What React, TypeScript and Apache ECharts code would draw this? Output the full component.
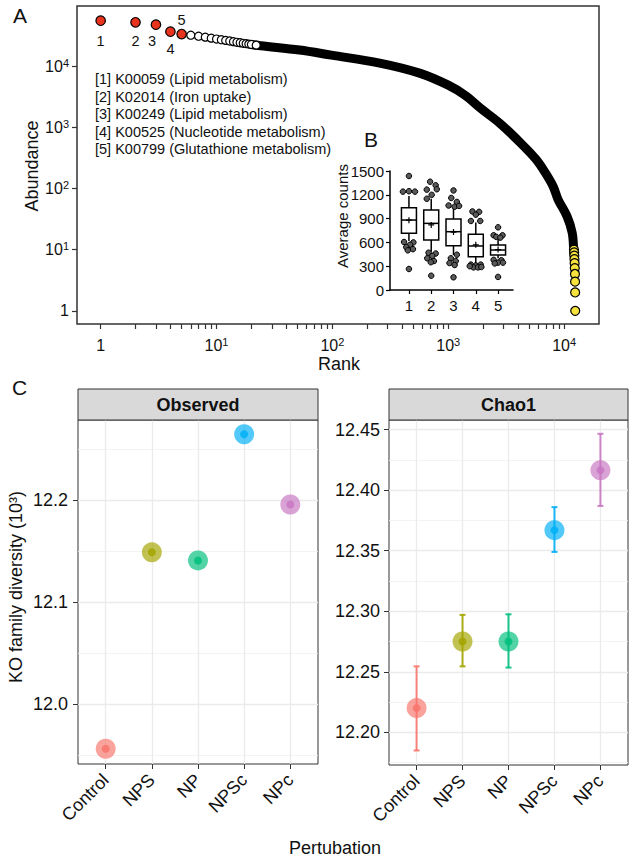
import React, { useEffect, useRef } from 'react';
import * as echarts from 'echarts';

// ---------- Panel A: rank–abundance ----------
const topRanks = [1, 2, 3, 4, 5];
const topAbundance = [55200, 52000, 47500, 36500, 33400];
const topLabels = ['1', '2', '3', '4', '5'];
const koLegend = [
  '[1] K00059 (Lipid metabolism)',
  '[2] K02014 (Iron uptake)',
  '[3] K00249 (Lipid metabolism)',
  '[4] K00525 (Nucleotide metabolism)',
  '[5] K00799 (Glutathione metabolism)',
];
const headRanks = [6, 7, 8, 9, 10, 11, 12, 13, 14, 15, 16, 17, 18, 19, 20, 22];
const headAbundance = [32000, 30800, 29700, 28600, 27700, 27000, 26300, 25700, 25100, 24500, 24100, 23600, 23300, 22900, 22600, 22000];
const bodyRanks = [20, 24, 52, 98, 256, 565, 1000, 1390, 1950, 2790, 4160, 5730, 6850, 8040, 8870, 10600, 11730, 12050];
const bodyAbundance = [22600, 21500, 18300, 15100, 11200, 7680, 4880, 3350, 1970, 1160, 567, 299, 183, 108, 66, 35, 19, 11];
const tailRanks = [12150, 12200, 12240, 12280, 12320, 12360, 12400, 12430, 12450, 12470];
const tailAbundance = [10, 9, 8, 7, 6, 5, 4, 3, 2, 1];
const rankMajor = [1, 10, 100, 1000, 10000];
const abundMajor = [1, 10, 100, 1000, 10000];

// ---------- Panel B: box plots ----------
const boxCats = [1, 2, 3, 4, 5];
const boxLow = [617, 483, 441, 330, 400];
const boxQ1 = [714, 630, 559, 420, 441];
const boxMed = [882, 840, 735, 555, 504];
const boxQ3 = [1037, 1008, 895, 702, 567];
const boxHigh = [1185, 1150, 1050, 850, 655];
const boxMean = [880, 820, 730, 570, 510];
const boxDots = [
  [[0, 1437], [-0.27, 1240], [0, 1245], [0.27, 1240], [-0.22, 605], [0.2, 600], [0.05, 570], [-0.12, 540], [0.18, 515], [-0.05, 500], [0, 265]],
  [[-0.05, 1365], [0.2, 1320], [0.25, 1270], [-0.2, 1265], [0.02, 1200], [-0.2, 1150], [-0.12, 470], [0.2, 460], [0.05, 430], [-0.18, 400], [0.12, 365], [-0.02, 350], [0, 180]],
  [[0, 1255], [-0.1, 1160], [0.15, 1110], [-0.22, 1065], [0.05, 1050], [0.25, 1060], [0.15, 445], [-0.12, 400], [0.1, 365], [-0.18, 340], [0.05, 315], [0, 160]],
  [[-0.15, 990], [0.15, 985], [0, 950], [-0.22, 870], [0.2, 870], [-0.22, 320], [0, 310], [0.22, 320], [-0.1, 285], [0.1, 285], [0.25, 290], [-0.27, 300]],
  [[0, 790], [-0.2, 690], [0.2, 690], [-0.08, 670], [0.1, 660], [-0.2, 380], [0.15, 375], [0, 345], [-0.15, 335], [0.22, 345], [0, 165]],
];
const boxTicks = [0, 300, 600, 900, 1200, 1500];

// ---------- Panel C: diversity ----------
const perturbations = ['Control', 'NPS', 'NP', 'NPSc', 'NPc'];
const observed = [11.956, 12.149, 12.141, 12.265, 12.196];
const chao1 = [12.22, 12.275, 12.275, 12.367, 12.4165];
const chao1Low = [12.185, 12.2545, 12.2535, 12.349, 12.387];
const chao1High = [12.2545, 12.297, 12.2975, 12.386, 12.4466];
const obsTicks = [12.0, 12.1, 12.2];
const obsMinor = [11.95, 12.05, 12.15, 12.25];
const chaoTicks = [12.2, 12.25, 12.3, 12.35, 12.4, 12.45];
const chaoMinor = [12.175, 12.225, 12.275, 12.325, 12.375, 12.425];

const groupColors = ['#f8766d', '#a3a500', '#00bf7d', '#00b0f6', '#c878c3'];

const FONT = "'Liberation Sans', Arial, Helvetica, sans-serif";
const TXT = '#111';
const LINE = '#333';

const catPos = perturbations.map((_, i) => i + 1);
const rankTicks: number[] = [];
rankMajor.forEach((m) => {
  if (m === 10000) rankTicks.push(m);
  else for (let k = 1; k <= 9; k++) rankTicks.push(k * m);
});

const supLabel = (v: number) => {
  const e = Math.round(Math.log10(v));
  return e === 0 ? '{a|1}' : `{a|10}{b|${e}}`;
};
const supRich = {
  a: { fontSize: 16, lineHeight: 18, color: TXT, fontFamily: FONT },
  b: { fontSize: 11, lineHeight: 11, verticalAlign: 'top', color: TXT, fontFamily: FONT },
};

function txt(text: string, x: number, y: number, size: number, extra: any = {}) {
  return {
    type: 'text',
    x,
    y,
    rotation: extra.rotation || 0,
    z: 100,
    style: {
      text,
      fontSize: size,
      fontFamily: FONT,
      fontWeight: extra.bold ? 'bold' : 'normal',
      fill: TXT,
      align: extra.align || 'center',
      verticalAlign: 'middle',
    },
  };
}

function facetXAxis(grid: number) {
  return {
    gridIndex: grid,
    type: 'value',
    min: 0.4,
    max: 5.6,
    axisLine: { show: false },
    axisTick: { show: true, length: 5, customValues: catPos, lineStyle: { color: LINE, width: 1 } },
    axisLabel: {
      customValues: catPos,
      formatter: (v: number) => perturbations[Math.round(v) - 1],
      rotate: 45,
      fontSize: 18,
      color: TXT,
      fontFamily: FONT,
      margin: 13,
      padding: [24, 0, 0, 0],
    },
    splitLine: { show: true, lineStyle: { color: '#ebebeb', width: 1.3 } },
  };
}

function facetYAxis(grid: number, min: number, max: number, ticks: number[], digits: number, margin: number) {
  return {
    gridIndex: grid,
    type: 'value',
    min,
    max,
    axisLine: { show: false },
    axisTick: { show: true, length: 5, customValues: ticks, lineStyle: { color: LINE, width: 1 } },
    axisLabel: {
      customValues: ticks,
      formatter: (v: number) => v.toFixed(digits),
      fontSize: 18,
      color: TXT,
      fontFamily: FONT,
      margin,
    },
    splitLine: { show: true, lineStyle: { color: '#ebebeb', width: 1.3 } },
  };
}

function minorYAxis(grid: number, min: number, max: number, ticks: number[]) {
  return {
    gridIndex: grid,
    type: 'value',
    min,
    max,
    axisLine: { show: false },
    axisTick: { show: false, customValues: ticks },
    axisLabel: { show: false },
    splitLine: { show: true, lineStyle: { color: '#f0f0f0', width: 0.8 } },
  };
}

function buildOption(): any {
  const gridBase = { outerBoundsMode: 'none', containLabel: false };
  return {
    animation: false,
    backgroundColor: '#fff',
    textStyle: { fontFamily: FONT },
    grid: [
      { ...gridBase, left: 77, top: 6, width: 522, height: 318, show: true, borderColor: LINE, borderWidth: 1.5 },
      { ...gridBase, left: 390, top: 171, width: 123, height: 119 },
      { ...gridBase, left: 78, top: 420, width: 240, height: 344, show: true, borderColor: LINE, borderWidth: 1 },
      { ...gridBase, left: 389, top: 420, width: 239, height: 345, show: true, borderColor: LINE, borderWidth: 1 },
    ],
    xAxis: [
      {
        gridIndex: 0,
        type: 'log',
        logBase: 10,
        min: 0.625,
        max: 20000,
        axisLine: { show: false },
        axisTick: { show: true, length: 5, customValues: rankTicks, lineStyle: { color: LINE, width: 1.2 } },
        axisLabel: { customValues: rankMajor, formatter: supLabel, rich: supRich, margin: 12 },
        splitLine: { show: false },
        minorTick: { show: false },
      },
      {
        gridIndex: 1,
        type: 'value',
        min: 0.15,
        max: 5.67,
        axisLine: { show: true, lineStyle: { color: '#000', width: 1.5 } },
        axisTick: { show: true, length: 4, customValues: boxCats, lineStyle: { color: '#000', width: 1.2 } },
        axisLabel: { customValues: boxCats, formatter: (v: number) => String(v), fontSize: 15, color: TXT, fontFamily: FONT, margin: 8 },
        splitLine: { show: false },
      },
      facetXAxis(2),
      facetXAxis(3),
    ],
    yAxis: [
      {
        gridIndex: 0,
        type: 'log',
        logBase: 10,
        min: 0.61,
        max: 96000,
        axisLine: { show: false },
        axisTick: { show: true, length: 5, customValues: abundMajor, lineStyle: { color: LINE, width: 1.2 } },
        axisLabel: { customValues: abundMajor, formatter: supLabel, rich: supRich, margin: 8 },
        splitLine: { show: false },
        minorTick: { show: false },
      },
      {
        gridIndex: 1,
        type: 'value',
        min: 0,
        max: 1500,
        axisLine: { show: true, lineStyle: { color: '#000', width: 1.5 } },
        axisTick: { show: true, length: 4, customValues: boxTicks, lineStyle: { color: '#000', width: 1.2 } },
        axisLabel: { customValues: boxTicks, formatter: (v: number) => String(v), fontSize: 15, color: TXT, fontFamily: FONT, margin: 6 },
        splitLine: { show: false },
      },
      facetYAxis(2, 11.941, 12.279, obsTicks, 1, 10),
      minorYAxis(2, 11.941, 12.279, obsMinor),
      facetYAxis(3, 12.173, 12.458, chaoTicks, 2, 9),
      minorYAxis(3, 12.173, 12.458, chaoMinor),
    ],
    series: [
      // ---- A ----
      {
        type: 'line',
        xAxisIndex: 0,
        yAxisIndex: 0,
        data: bodyRanks.map((r, i) => [r, bodyAbundance[i]]),
        showSymbol: false,
        smooth: 0.35,
        lineStyle: { color: '#000', width: 9, cap: 'round', join: 'round' },
        z: 2,
      },
      {
        type: 'scatter',
        xAxisIndex: 0,
        yAxisIndex: 0,
        data: headRanks.map((r, i) => [r, headAbundance[i]]),
        symbolSize: 8,
        itemStyle: { color: '#fff', borderColor: '#000', borderWidth: 1.2, opacity: 1 },
        z: 3,
      },
      {
        type: 'scatter',
        xAxisIndex: 0,
        yAxisIndex: 0,
        data: topRanks.map((r, i) => {
          const pos: any[] = [
            { position: 'bottom', distance: 7 },
            { position: 'bottom', distance: 5.5 },
            { position: 'bottom', distance: 3.5, offset: [-4, 0] },
            { position: 'bottom', distance: 4.5 },
            { position: 'top', distance: 1 },
          ];
          return { value: [r, topAbundance[i]], label: { show: true, formatter: topLabels[i], ...pos[i] } };
        }),
        symbolSize: 9.5,
        itemStyle: { color: '#e8331f', borderColor: '#000', borderWidth: 1.2, opacity: 1 },
        label: { show: true, color: TXT, fontSize: 14.5, fontFamily: FONT },
        z: 4,
      },
      {
        type: 'scatter',
        xAxisIndex: 0,
        yAxisIndex: 0,
        data: tailRanks.map((r, i) => [r, tailAbundance[i]]),
        symbolSize: 9,
        itemStyle: { color: '#f6e23c', borderColor: '#000', borderWidth: 1.2, opacity: 1 },
        z: 4,
      },
      // ---- B ----
      {
        type: 'custom',
        xAxisIndex: 1,
        yAxisIndex: 1,
        encode: { x: 0, y: [1, 2, 3, 4, 5] },
        data: boxCats.map((c, i) => [c, boxLow[i], boxQ1[i], boxMed[i], boxQ3[i], boxHigh[i]]),
        renderItem: (params: any, api: any) => {
          const x = api.value(0);
          const lo = api.coord([x, api.value(1)]);
          const q1 = api.coord([x, api.value(2)]);
          const med = api.coord([x, api.value(3)]);
          const q3 = api.coord([x, api.value(4)]);
          const hi = api.coord([x, api.value(5)]);
          const hw = 7.5;
          const st = { stroke: '#000', lineWidth: 1.5, fill: 'none' };
          return {
            type: 'group',
            children: [
              { type: 'line', shape: { x1: lo[0], y1: lo[1], x2: q1[0], y2: q1[1] }, style: st },
              { type: 'line', shape: { x1: q3[0], y1: q3[1], x2: hi[0], y2: hi[1] }, style: st },
              { type: 'rect', shape: { x: q1[0] - hw, y: q3[1], width: 2 * hw, height: q1[1] - q3[1] }, style: { fill: '#fff', stroke: '#000', lineWidth: 1.5 } },
              { type: 'line', shape: { x1: med[0] - hw, y1: med[1], x2: med[0] + hw, y2: med[1] }, style: st },
            ],
          };
        },
        z: 5,
      },
      {
        type: 'scatter',
        xAxisIndex: 1,
        yAxisIndex: 1,
        data: boxMean.map((m, i) => [boxCats[i], m]),
        symbol: 'path://M2,0H3V2H5V3H3V5H2V3H0V2H2Z',
        symbolSize: 6,
        itemStyle: { color: '#000', opacity: 1 },
        z: 6,
      },
      {
        type: 'scatter',
        xAxisIndex: 1,
        yAxisIndex: 1,
        data: boxDots.flatMap((list, i) => list.map((d) => [boxCats[i] + d[0], d[1]])),
        symbolSize: 5.5,
        itemStyle: { color: '#5a5a5a', borderColor: '#000', borderWidth: 1, opacity: 1 },
        z: 6,
      },
      // ---- C: Observed ----
      {
        type: 'scatter',
        xAxisIndex: 2,
        yAxisIndex: 2,
        data: observed.map((v, i) => ({ value: [catPos[i], v], itemStyle: { color: groupColors[i] } })),
        symbolSize: 20,
        itemStyle: { opacity: 0.68 },
        z: 5,
      },
      {
        type: 'scatter',
        xAxisIndex: 2,
        yAxisIndex: 2,
        data: observed.map((v, i) => ({ value: [catPos[i], v], itemStyle: { color: groupColors[i] } })),
        symbolSize: 8,
        itemStyle: { opacity: 0.85 },
        z: 6,
      },
      // ---- C: Chao1 ----
      {
        type: 'custom',
        xAxisIndex: 3,
        yAxisIndex: 4,
        encode: { x: 0, y: [1, 2] },
        data: chao1.map((_, i) => [catPos[i], chao1Low[i], chao1High[i]]),
        renderItem: (params: any, api: any) => {
          const i = params.dataIndex;
          const x = api.value(0);
          const lo = api.coord([x, api.value(1)]);
          const hi = api.coord([x, api.value(2)]);
          const st = { stroke: groupColors[i], lineWidth: 2, opacity: 0.9 };
          const w = 3;
          return {
            type: 'group',
            children: [
              { type: 'line', shape: { x1: lo[0], y1: lo[1], x2: hi[0], y2: hi[1] }, style: st },
              { type: 'line', shape: { x1: lo[0] - w, y1: lo[1], x2: lo[0] + w, y2: lo[1] }, style: st },
              { type: 'line', shape: { x1: hi[0] - w, y1: hi[1], x2: hi[0] + w, y2: hi[1] }, style: st },
            ],
          };
        },
        z: 4,
      },
      {
        type: 'scatter',
        xAxisIndex: 3,
        yAxisIndex: 4,
        data: chao1.map((v, i) => ({ value: [catPos[i], v], itemStyle: { color: groupColors[i] } })),
        symbolSize: 20,
        itemStyle: { opacity: 0.68 },
        z: 5,
      },
      {
        type: 'scatter',
        xAxisIndex: 3,
        yAxisIndex: 4,
        data: chao1.map((v, i) => ({ value: [catPos[i], v], itemStyle: { color: groupColors[i] } })),
        symbolSize: 8,
        itemStyle: { opacity: 0.85 },
        z: 6,
      },
    ],
    graphic: [
      txt('A', 20, 15, 21),
      txt('B', 371, 139, 21),
      txt('C', 19.5, 387, 21),
      ...koLegend.map((t, i) => txt(t, 95, 79 + i * 17.6, 14.5, { align: 'left' })),
      txt('Abundance', 32, 166, 18, { rotation: Math.PI / 2 }),
      txt('Rank', 339, 364, 18),
      txt('Average counts', 342, 216, 15, { rotation: Math.PI / 2 }),
      {
        type: 'rect',
        z: 90,
        shape: { x: 78, y: 389, width: 240, height: 31 },
        style: { fill: '#d9d9d9', stroke: LINE, lineWidth: 1 },
      },
      {
        type: 'rect',
        z: 90,
        shape: { x: 389, y: 389, width: 239, height: 31 },
        style: { fill: '#d9d9d9', stroke: LINE, lineWidth: 1 },
      },
      txt('Observed', 198, 405, 18, { bold: true }),
      txt('Chao1', 508.5, 405, 18, { bold: true }),
      txt('KO family diversity (10³)', 16, 587, 18, { rotation: Math.PI / 2 }),
      txt('Pertubation', 335, 848, 18),
    ],
  };
}

export default function App() {
  const ref = useRef<HTMLDivElement>(null);
  useEffect(() => {
    const chart = echarts.init(ref.current as HTMLDivElement, null, { renderer: 'svg', width: 630, height: 860 });
    chart.setOption(buildOption());
    return () => chart.dispose();
  }, []);
  return (
    <div
      ref={ref}
      style={{ position: 'absolute', left: 0, top: 0, width: 630, height: 860, background: '#fff' }}
    />
  );
}
